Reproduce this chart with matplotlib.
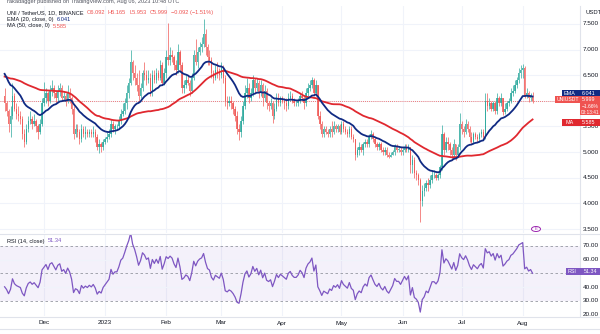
import matplotlib
matplotlib.use("Agg")
import matplotlib.pyplot as plt
import matplotlib.dates as mdates
from matplotlib.patches import Rectangle
import numpy as np
import pandas as pd

plt.rcParams["font.family"] = ["Liberation Sans", "DejaVu Sans"]

# ---------------- data (UNI/USDT daily, Binance) ----------------
start_date = "2022-11-11"
# closes before the visible window (used only to warm up EMA/MA/RSI)
warmup_closes = [6.25, 6.30, 6.35, 6.30, 6.25, 6.30, 6.35, 6.40, 6.30,
                 6.30, 6.35, 6.40, 6.45, 6.40, 6.35, 6.30, 6.25, 6.30, 6.25,
                 6.20, 6.15, 6.20, 6.25, 6.20, 6.30, 6.35, 6.30, 6.25, 6.30,
                 6.35, 6.40, 6.45, 6.50, 6.80, 6.90, 6.80, 7.00, 7.30, 7.10, 7.00,
                 6.95, 7.05, 7.00, 7.25, 7.20, 7.00, 6.80, 6.00, 5.40, 6.10]

closes = [
    # Nov 11-30
    5.95, 5.80, 5.55, 5.70, 6.10, 5.85, 5.75, 5.70, 5.65, 5.35,
    5.20, 5.45, 5.60, 5.65, 5.55, 5.60, 5.50, 5.40, 5.55, 5.95,
    # Dec
    6.05, 6.15, 6.00, 6.20, 6.25, 6.15, 6.05, 6.20, 6.25, 6.05,
    6.10, 6.00, 6.15, 6.05, 5.85, 5.35, 5.45, 5.40, 5.25, 5.45,
    5.35, 5.40, 5.35, 5.40, 5.35, 5.40, 5.30, 5.10, 5.15, 5.10, 5.20,
    # Jan
    5.25, 5.30, 5.35, 5.55, 5.45, 5.50, 5.50, 5.60, 5.75, 5.80,
    5.95, 6.15, 6.35, 6.75, 6.55, 6.45, 6.30, 6.10, 6.25, 6.55,
    6.50, 6.40, 6.45, 6.20, 6.50, 6.40, 6.55, 6.45, 6.70, 6.35, 6.55,
    # Feb
    6.85, 6.80, 6.90, 6.85, 6.70, 6.60, 6.95, 6.70, 6.25, 6.30,
    6.40, 6.35, 6.20, 6.45, 6.90, 6.75, 6.95, 7.05, 7.10, 7.30,
    7.05, 6.85, 6.80, 6.55, 6.45, 6.60, 6.55, 6.50,
    # Mar
    6.65, 6.45, 6.00, 5.95, 6.00, 5.95, 5.85, 5.70, 5.45, 5.40,
    5.60, 5.90, 6.15, 6.25, 6.05, 6.15, 6.40, 6.25, 6.35, 6.15,
    6.30, 6.05, 6.20, 5.95, 5.90, 5.95, 5.70, 5.85, 6.05, 5.95, 6.05,
    # Apr
    6.00, 5.95, 5.90, 6.05, 6.10, 6.00, 5.95, 5.95, 6.00, 6.10,
    6.05, 5.95, 6.15, 6.25, 6.30, 6.40, 6.15, 6.30, 5.70, 5.55,
    5.35, 5.45, 5.40, 5.35, 5.45, 5.40, 5.50, 5.45, 5.50, 5.40,
    # May
    5.55, 5.45, 5.40, 5.35, 5.45, 5.30, 5.25, 4.95, 5.05, 5.10,
    5.05, 5.15, 5.20, 5.15, 5.30, 5.35, 5.25, 5.15, 5.10, 5.15,
    5.05, 5.00, 5.05, 4.95, 4.90, 4.95, 5.00, 5.10, 5.05, 5.05, 5.00,
    # Jun
    5.05, 5.10, 5.05, 5.10, 4.75, 4.85, 4.60, 4.55, 4.45, 4.05,
    4.25, 4.30, 4.40, 4.35, 4.45, 4.55, 4.55, 4.50, 4.55, 4.70,
    5.35, 5.05, 5.20, 5.15, 5.05, 4.95, 5.15, 4.95, 5.10, 5.55,
    # Jul
    5.45, 5.40, 5.55, 5.45, 5.30, 5.20, 5.35, 5.30, 5.25, 5.35,
    5.40, 5.30, 6.00, 5.90, 5.95, 5.85, 5.95, 5.80, 6.05, 5.95,
    6.05, 5.78, 5.85, 5.95, 6.00, 6.15, 6.20, 6.30, 6.40, 6.55, 6.60,
    # Aug 1-6
    6.65, 6.10, 6.15, 6.05, 6.092, 5.999,
]

highs = [
    6.25, 6.00, 5.85, 5.90, 6.35, 6.15, 5.95, 5.90, 5.80, 5.70,
    5.45, 5.55, 5.70, 5.80, 5.70, 5.75, 5.65, 5.55, 5.65, 6.05,
    6.37, 6.25, 6.20, 6.30, 6.40, 6.30, 6.20, 6.30, 6.35, 6.30,
    6.20, 6.15, 6.30, 6.25, 6.10, 5.90, 5.55, 5.55, 5.45, 5.55,
    5.50, 5.50, 5.45, 5.45, 5.45, 5.50, 5.45, 5.35, 5.25, 5.20, 5.25,
    5.30, 5.40, 5.45, 5.65, 5.60, 5.55, 5.55, 5.70, 5.85, 5.95,
    6.05, 6.30, 6.45, 7.00, 6.80, 6.70, 6.55, 6.60, 6.35, 6.60,
    6.75, 6.60, 6.60, 6.55, 6.60, 6.60, 6.65, 6.60, 6.80, 6.75, 6.65,
    7.00, 7.52, 7.05, 7.00, 6.90, 6.80, 7.10, 7.00, 6.75, 6.40,
    6.50, 6.50, 6.40, 6.55, 7.00, 7.20, 7.05, 7.15, 7.25, 7.60,
    7.40, 7.10, 7.00, 6.85, 6.60, 6.70, 6.75, 6.65,
    6.75, 6.70, 6.50, 6.10, 6.10, 6.10, 6.00, 5.90, 5.80, 5.55,
    5.70, 6.00, 6.30, 6.45, 6.35, 6.25, 6.50, 6.45, 6.45, 6.40,
    6.40, 6.35, 6.30, 6.25, 6.00, 6.05, 6.00, 5.95, 6.15, 6.15, 6.10,
    6.10, 6.05, 6.05, 6.15, 6.20, 6.15, 6.05, 6.00, 6.05, 6.15,
    6.20, 6.10, 6.25, 6.35, 6.40, 6.47, 6.45, 6.40, 6.30, 5.80,
    5.60, 5.50, 5.50, 5.45, 5.50, 5.60, 5.60, 5.55, 5.55, 5.55,
    5.60, 5.60, 5.50, 5.45, 5.50, 5.50, 5.35, 5.25, 5.10, 5.20,
    5.15, 5.20, 5.25, 5.25, 5.35, 5.43, 5.40, 5.30, 5.20, 5.20,
    5.20, 5.10, 5.10, 5.10, 5.00, 5.00, 5.05, 5.15, 5.15, 5.10, 5.10,
    5.10, 5.15, 5.15, 5.15, 5.10, 4.95, 4.90, 4.65, 4.60, 4.50,
    4.35, 4.40, 4.45, 4.50, 4.55, 4.65, 4.65, 4.60, 4.60, 4.75,
    5.53, 5.40, 5.30, 5.30, 5.20, 5.10, 5.25, 5.15, 5.15, 5.76,
    5.60, 5.50, 5.65, 5.60, 5.50, 5.40, 5.40, 5.40, 5.35, 5.40,
    5.45, 5.45, 6.15, 6.15, 6.05, 6.00, 6.00, 6.00, 6.15, 6.10,
    6.15, 6.05, 5.95, 6.00, 6.05, 6.25, 6.30, 6.40, 6.47, 6.65, 6.70,
    6.72, 6.68, 6.25, 6.20, 6.15, 6.165,
]

lows = [
    5.80, 5.70, 5.40, 5.30, 5.65, 5.80, 5.65, 5.60, 5.55, 5.25,
    5.10, 5.15, 5.40, 5.55, 5.45, 5.50, 5.40, 5.25, 5.35, 5.50,
    5.90, 5.95, 5.90, 5.95, 6.10, 6.05, 5.95, 6.00, 6.10, 6.00,
    6.00, 5.90, 5.95, 5.95, 5.75, 5.25, 5.30, 5.30, 5.15, 5.20,
    5.30, 5.25, 5.30, 5.30, 5.30, 5.30, 5.20, 5.05, 4.98, 5.00, 5.05,
    5.15, 5.20, 5.25, 5.30, 5.40, 5.35, 5.45, 5.45, 5.55, 5.70,
    5.75, 5.85, 6.05, 6.30, 6.40, 6.30, 6.20, 6.00, 6.05, 6.20,
    6.40, 6.30, 6.35, 6.10, 6.10, 6.35, 6.35, 6.40, 6.40, 6.30, 6.30,
    6.45, 6.70, 6.70, 6.75, 6.60, 6.50, 6.55, 6.60, 6.15, 6.15,
    6.25, 6.30, 6.10, 6.15, 6.40, 6.70, 6.65, 6.90, 6.95, 7.05,
    6.90, 6.70, 6.70, 6.45, 6.35, 6.40, 6.45, 6.40,
    6.45, 6.35, 5.90, 5.85, 5.90, 5.85, 5.75, 5.60, 5.35, 5.24,
    5.30, 5.55, 5.85, 6.05, 5.95, 6.00, 6.10, 6.15, 6.20, 6.05,
    6.10, 5.90, 6.00, 5.85, 5.80, 5.85, 5.57, 5.65, 5.80, 5.90, 5.90,
    5.95, 5.85, 5.80, 5.85, 6.00, 5.95, 5.90, 5.90, 5.90, 5.95,
    6.00, 5.85, 5.90, 6.10, 6.20, 6.25, 6.10, 6.10, 5.65, 5.45,
    5.30, 5.30, 5.35, 5.30, 5.30, 5.30, 5.35, 5.40, 5.40, 5.35,
    5.35, 5.40, 5.35, 5.30, 5.30, 5.25, 5.20, 4.85, 4.90, 4.95,
    5.00, 4.95, 5.10, 5.10, 5.10, 5.25, 5.20, 5.10, 5.05, 5.05,
    5.00, 4.95, 4.95, 4.90, 4.88, 4.90, 4.95, 4.95, 5.00, 5.00, 4.95,
    4.95, 5.00, 5.00, 5.00, 4.60, 4.60, 4.50, 4.45, 4.35, 3.64,
    3.95, 4.15, 4.25, 4.25, 4.30, 4.40, 4.50, 4.45, 4.45, 4.50,
    4.65, 4.95, 5.00, 5.05, 4.95, 4.85, 4.90, 4.85, 4.90, 5.05,
    5.35, 5.30, 5.35, 5.40, 5.20, 5.15, 5.15, 5.25, 5.20, 5.20,
    5.30, 5.25, 5.25, 5.80, 5.85, 5.80, 5.80, 5.75, 5.75, 5.90,
    5.90, 5.72, 5.75, 5.80, 5.90, 5.95, 6.10, 6.15, 6.25, 6.35, 6.45,
    6.45, 6.05, 6.05, 5.98, 6.00, 5.953,
]

month_labels = ["Dec", "2023", "Feb", "Mar", "Apr", "May", "Jun", "Jul", "Aug"]
month_starts = ["2022-12-01", "2023-01-01", "2023-02-01", "2023-03-01", "2023-04-01",
                "2023-05-01", "2023-06-01", "2023-07-01", "2023-08-01"]
price_ticks = [3.5, 4.0, 4.5, 5.0, 5.5, 7.0, 6.5, 7.5]
rsi_ticks = [20, 30, 40, 60, 70]

last_o, last_h, last_l, last_c = 6.092, 6.165, 5.953, 5.999
last_change, last_change_pct = -0.092, -1.51
ema_value, ma_value, rsi_value = 6.041, 5.585, 51.34   # values shown in the legends

# ---------------- indicators ----------------
allc = pd.Series(warmup_closes + closes)
ema20 = allc.ewm(span=20, adjust=False).mean().values[len(warmup_closes):]
ma50 = allc.rolling(50).mean().values[len(warmup_closes):]
delta = allc.diff()
up = delta.clip(lower=0).ewm(alpha=1/14, adjust=False).mean()
dn = (-delta.clip(upper=0)).ewm(alpha=1/14, adjust=False).mean()
rsi = (100 - 100 / (1 + up / dn)).values[len(warmup_closes):]

opens = [warmup_closes[-1]] + closes[:-1]
n = len(closes)
dates = pd.date_range(start_date, periods=n, freq="D")
xs = mdates.date2num(dates)

# ---------------- figure ----------------
W, H = 600, 334
fig = plt.figure(figsize=(W / 100, H / 100), dpi=100)
fig.patch.set_facecolor("white")
renderer = fig.canvas.get_renderer()

def fy(px):
    return 1 - px / H

PLOT_R = 580
ax = fig.add_axes([0, fy(233), PLOT_R / W, (233 - 6) / H])
rax = fig.add_axes([0, fy(316), PLOT_R / W, (316 - 234) / H])

dec1 = mdates.date2num(pd.Timestamp("2022-12-01"))
pxday = 1.97
xl = (dec1 - 44 / pxday, dec1 + (PLOT_R - 44) / pxday)
ax.set_xlim(*xl)
rax.set_xlim(*xl)
ax.set_ylim(3.422, 7.851)
rax.set_ylim(19.15, 78.46)

UP, DN = "#26a69a", "#ef5350"
GRID = "#f0f3fa"
NAVY = "#102a83"
MARED = "#e0282f"
PURP = "#7e57c2"

month_x = mdates.date2num(pd.to_datetime(month_starts))
for a in (ax, rax):
    for mx in month_x:
        a.axvline(mx, color=GRID, lw=0.8, zorder=0)
    a.set_xticks([])
    a.set_yticks([])
    for s in a.spines.values():
        s.set_visible(False)
for p in [3.5, 4.0, 4.5, 5.0, 5.5, 6.0, 6.5, 7.0, 7.5]:
    ax.axhline(p, color=GRID, lw=0.8, zorder=0)

# candles
o = np.array(opens); c = np.array(closes); h = np.array(highs); l = np.array(lows)
h = np.maximum(h, np.maximum(o, c)); l = np.minimum(l, np.minimum(o, c))
cols = np.where(c >= o, UP, DN)
ax.vlines(xs, l, h, colors=cols, lw=0.6, alpha=0.8, zorder=2)
body_h = np.maximum(np.abs(c - o), 0.012)
ax.bar(xs, body_h, bottom=np.minimum(o, c), width=0.72, color=cols, alpha=0.8,
       lw=0, zorder=3)

ax.plot(xs, ma50, color=MARED, lw=1.3, zorder=4)
ax.plot(xs, ema20, color=NAVY, lw=1.3, zorder=5)
ax.axhline(last_c, color=DN, lw=0.6, ls=(0, (1, 1.5)), zorder=1)

# separators
fig.add_artist(plt.Line2D([PLOT_R / W, PLOT_R / W], [fy(316), fy(6)], color="#e0e3eb", lw=0.8))
fig.add_artist(plt.Line2D([0, 1], [fy(233.5), fy(233.5)], color="#e0e3eb", lw=0.8))
fig.add_artist(plt.Line2D([0, 1], [fy(316.5), fy(316.5)], color="#e0e3eb", lw=0.8))
fig.add_artist(plt.Line2D([0, 1], [fy(329), fy(329)], color="#e0e3eb", lw=0.8))

# RSI panel
rax.axhspan(30, 70, color=PURP, alpha=0.08, lw=0, zorder=0)
for v in (30, 50, 70):
    rax.axhline(v, color="#9598a1", lw=0.6, ls=(0, (3, 3)), zorder=1)
for v in (40, 60):
    rax.axhline(v, color=GRID, lw=0.8, zorder=0)
rax.plot(xs, rsi, color=PURP, lw=0.9, zorder=3)

FS = 4.6
LFS = 4.1
TXT = "#131722"
# right price scale labels
for p in price_ticks:
    ax.text(583 / PLOT_R, p, f"{p:.3f}", transform=ax.get_yaxis_transform(),
            fontsize=FS, color=TXT, va="center", ha="left", clip_on=False)
for v in rsi_ticks:
    rax.text(583 / PLOT_R, v, f"{v:.2f}", transform=rax.get_yaxis_transform(),
             fontsize=FS, color=TXT, va="center", ha="left", clip_on=False)
fig.text(585 / W, fy(13), "USDT", fontsize=FS - 0.4, color=TXT, va="center", ha="left")

# time axis labels
for mx, lab in zip(month_x, month_labels):
    xf = ax.transData.transform((mx, 5))[0] / W
    fig.text(xf, fy(323), lab, fontsize=FS, color=TXT, ha="center", va="center")

def ypix(axis, val):
    return H - axis.transData.transform((xl[0], val))[1]

def box(x0, x1, yc, hgt, color):
    fig.add_artist(Rectangle((x0 / W, fy(yc + hgt / 2)), (x1 - x0) / W, hgt / H,
                             transform=fig.transFigure, fc=color, ec="none", zorder=10))

def btxt(x, yc, s, fs=3.9):
    fig.text(x / W, fy(yc), s, fontsize=fs, color="white", ha="left", va="center", zorder=11)

# EMA label (shifted up to avoid overlap, as TradingView does)
ye = ypix(ax, ema_value) - 5
box(562, 600, ye, 7, NAVY)
btxt(564, ye, "EMA"); btxt(582, ye, f"{ema_value:.3f}")
# last price label
yp = ypix(ax, last_c) - 1
box(555, 580, yp, 7, DN)
btxt(557, yp, "UNIUSDT", 3.7)
box(580, 600, yp + 6, 19, DN)
btxt(582, yp, f"{last_c:.3f}")
btxt(582, yp + 6.3, "\u22121.66%", 3.6)
btxt(581, yp + 12.3, "03:13:41", 3.4)
# MA label
ym = ypix(ax, ma_value)
box(562, 600, ym, 7, MARED)
btxt(566, ym, "MA"); btxt(582, ym, f"{ma_value:.3f}")
# RSI label
yr = ypix(rax, rsi_value)
box(566, 600, yr, 7, PURP)
btxt(568, yr, "RSI"); btxt(584, yr, f"{rsi_value:.2f}")

# event marker near the bottom of price pane
fig.add_artist(plt.Circle((536 / W, fy(229)), 0.0075, transform=fig.transFigure,
                          fc="white", ec="#9c27b0", lw=0.7, zorder=6))
fig.text(536 / W, fy(229), "E", fontsize=3, color="#9c27b0", ha="center", va="center", zorder=7)

def chain(x_px, y_px, parts, fs=LFS, gap=3):
    x = x_px
    for s, col in parts:
        t = fig.text(x / W, fy(y_px), s, fontsize=fs, color=col, ha="left", va="center")
        bb = t.get_window_extent(renderer=renderer)
        x = bb.x1 + gap

# header / legends
fig.text(7 / W, fy(1.5), "rakadagger published on TradingView.com, Aug 06, 2023 10:48 UTC",
         fontsize=LFS, color="#50535e", ha="left", va="center")
chain(7, 12.5, [("UNI / TetherUS, 1D, BINANCE", TXT),
                (f"O{last_o:.3f}", DN), (f"H{last_h:.3f}", DN), (f"L{last_l:.3f}", DN),
                (f"C{last_c:.3f}", DN),
                (f"\u2212{abs(last_change):.3f} (\u2212{abs(last_change_pct):.2f}%)", DN)])
chain(7, 19.5, [("EMA (20, close, 0)", TXT), (f"{ema_value:.3f}", NAVY)])
chain(7, 26, [("MA (50, close, 0)", TXT), (f"{ma_value:.3f}", DN)])
chain(7, 241, [("RSI (14, close)", TXT), (f"{rsi_value:.2f}", PURP)])

fig.savefig("out.png", dpi=100)
